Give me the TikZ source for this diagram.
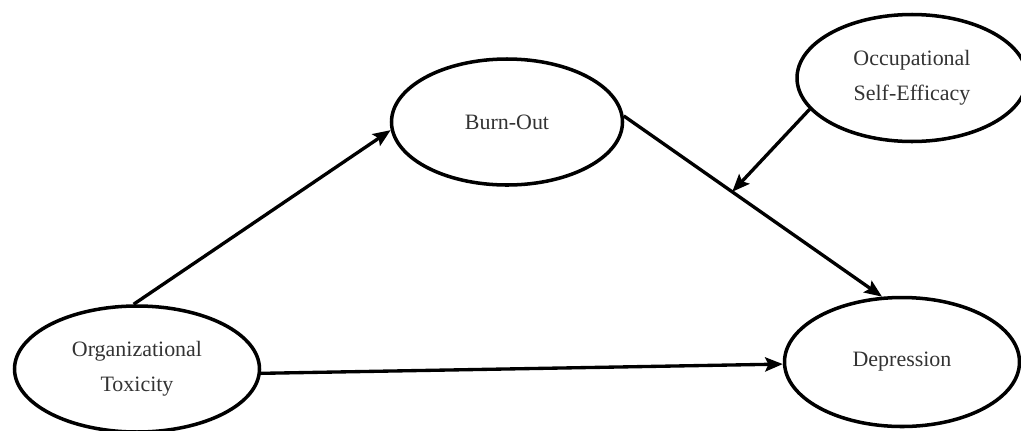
\documentclass[tikz,border=0pt]{standalone}
\usepackage{fontspec}
\setmainfont{Liberation Serif}
\usetikzlibrary{shapes.geometric,arrows.meta}
\begin{document}
\begin{tikzpicture}[x=0.02cm,y=-0.02cm,
  latent/.style={ellipse,draw=black,line width=2pt,inner sep=0pt,align=center,
    text=black!80,font=\fontsize{12.5}{20}\selectfont},
  path/.style={line width=1.9pt,-{Stealth[length=10pt,width=8pt,inset=1.8pt]}}]
\useasboundingbox (0,0) rectangle (1021,430);
\node[latent,minimum width=245*0.02cm,minimum height=126*0.02cm] (ot) at (137,369) {Organizational\\Toxicity};
\node[latent,minimum width=231*0.02cm,minimum height=126*0.02cm] (bo) at (507,122) {Burn-Out};
\node[latent,minimum width=230*0.02cm,minimum height=127*0.02cm] (ose) at (912,78) {Occupational\\Self-Efficacy};
\node[latent,minimum width=235*0.02cm,minimum height=129*0.02cm] (dep) at (902,362) {Depression};
\draw[path] (ot.93) -- (bo.184);
\draw[path] (bo.3) -- coordinate[pos=0.42] (mod) (dep.107);
\draw[path] (ot.358) -- (dep.181);
\draw[path] (ose.197) -- (mod);
\end{tikzpicture}
\end{document}
